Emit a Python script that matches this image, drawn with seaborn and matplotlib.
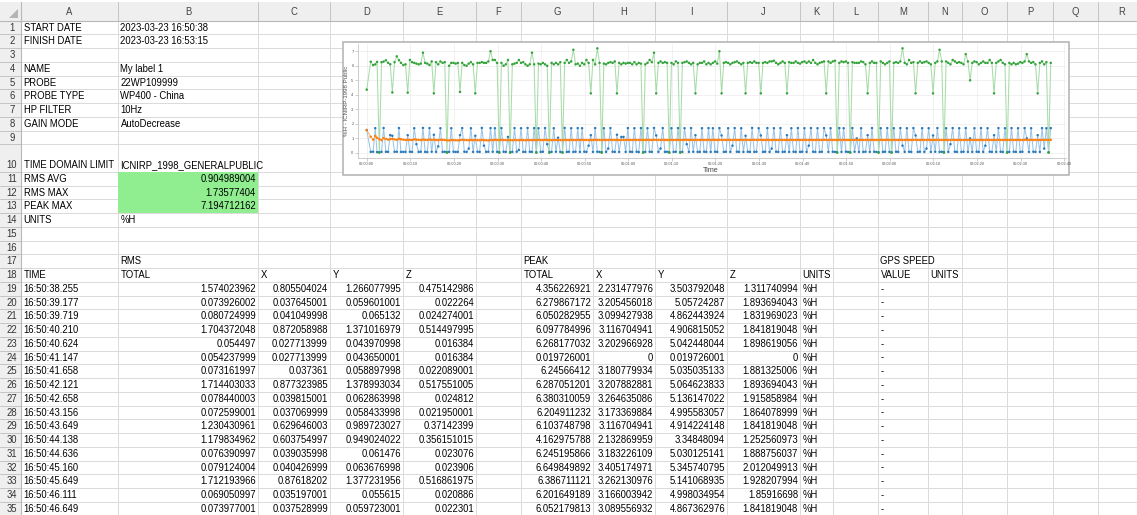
import numpy as np
import pandas as pd
import matplotlib
matplotlib.use("Agg")
import matplotlib.pyplot as plt
from matplotlib.patches import Rectangle, Polygon
import seaborn as sns

sns.set_theme(style="white")
plt.rcParams['font.family'] = ['Liberation Sans', 'DejaVu Sans']

# ------------------------------------------------------------------ data
COLUMN_LETTERS = list("ABCDEFGHIJKLMNOPQR")

INFO_KEYS = ["START DATE", "FINISH DATE", "", "NAME", "PROBE", "PROBE TYPE",
             "HP FILTER", "GAIN MODE", "", "TIME DOMAIN LIMIT", "RMS AVG",
             "RMS MAX", "PEAK MAX", "UNITS"]
INFO_VALUES = ["2023-03-23 16:50:38", "2023-03-23 16:53:15", "", "My label 1",
               "22WP109999", "WP400 - China", "10Hz", "AutoDecrease", "",
               "ICNIRP_1998_GENERALPUBLIC", "0.904989004", "1.73577404",
               "7.194712162", "%H"]
INFO_NUMERIC = [False] * 10 + [True, True, True, False]

GROUP_HEADERS = [("B", "RMS"), ("G", "PEAK"), ("M", "GPS SPEED")]
COLUMN_HEADERS = [("A", "TIME"), ("B", "TOTAL"), ("C", "X"), ("D", "Y"), ("E", "Z"),
                  ("G", "TOTAL"), ("H", "X"), ("I", "Y"), ("J", "Z"), ("K", "UNITS"),
                  ("M", "VALUE"), ("N", "UNITS")]

TABLE_TIME = ["16:50:38.255", "16:50:39.177", "16:50:39.719", "16:50:40.210",
              "16:50:40.624", "16:50:41.147", "16:50:41.658", "16:50:42.121",
              "16:50:42.658", "16:50:43.156", "16:50:43.649", "16:50:44.138",
              "16:50:44.636", "16:50:45.160", "16:50:45.649", "16:50:46.111",
              "16:50:46.649"]
RMS_TOTAL_TXT = ["1.574023962", "0.073926002", "0.080724999", "1.704372048", "0.054497",
                 "0.054237999", "0.073161997", "1.714403033", "0.078440003", "0.072599001",
                 "1.230430961", "1.179834962", "0.076390997", "0.079124004", "1.712193966",
                 "0.069050997", "0.073977001"]
RMS_X_TXT = ["0.805504024", "0.037645001", "0.041049998", "0.872058988", "0.027713999",
             "0.027713999", "0.037361", "0.877323985", "0.039815001", "0.037069999",
             "0.629646003", "0.603754997", "0.039035998", "0.040426999", "0.87618202",
             "0.035197001", "0.037528999"]
RMS_Y_TXT = ["1.266077995", "0.059601001", "0.065132", "1.371016979", "0.043970998",
             "0.043650001", "0.058897998", "1.378993034", "0.062863998", "0.058433998",
             "0.989723027", "0.949024022", "0.061476", "0.063676998", "1.377231956",
             "0.055615", "0.059723001"]
RMS_Z_TXT = ["0.475142986", "0.022264", "0.024274001", "0.514497995", "0.016384",
             "0.016384", "0.022089001", "0.517551005", "0.024812", "0.021950001",
             "0.37142399", "0.356151015", "0.023076", "0.023906", "0.516861975",
             "0.020886", "0.022301"]
PEAK_TOTAL_TXT = ["4.356226921", "6.279867172", "6.050282955", "6.097784996", "6.268177032",
                  "0.019726001", "6.24566412", "6.287051201", "6.380310059", "6.204911232",
                  "6.103748798", "4.162975788", "6.245195866", "6.649849892", "6.386711121",
                  "6.201649189", "6.052179813"]
PEAK_X_TXT = ["2.231477976", "3.205456018", "3.099427938", "3.116704941", "3.202966928",
              "0", "3.180779934", "3.207882881", "3.264635086", "3.173369884",
              "3.116704941", "2.132869959", "3.183226109", "3.405174971", "3.262130976",
              "3.166003942", "3.089556932"]
PEAK_Y_TXT = ["3.503792048", "5.05724287", "4.862443924", "4.906815052", "5.042448044",
              "0.019726001", "5.035035133", "5.064623833", "5.136147022", "4.995583057",
              "4.914224148", "3.34848094", "5.030125141", "5.345740795", "5.141068935",
              "4.998034954", "4.867362976"]
PEAK_Z_TXT = ["1.311740994", "1.893694043", "1.831969023", "1.841819048", "1.898619056",
              "0", "1.881325006", "1.893694043", "1.915858984", "1.864078999",
              "1.841819048", "1.252560973", "1.888756037", "2.012049913", "1.928207994",
              "1.85916698", "1.841819048"]
TABLE_UNITS = "%H"
GPS_VALUE = "-"

# chart series (elapsed seconds since start)
ELAPSED_S = [
    0.0, 0.922, 1.464, 1.955, 2.369, 2.892, 3.403, 3.866, 4.403, 4.901, 5.394, 5.883,
    6.381, 6.905, 7.394, 7.856, 8.394,
    8.9, 9.4, 9.9, 10.4, 10.9, 11.4, 11.9, 12.4, 12.9, 13.4, 13.9, 14.4, 14.9, 15.4, 15.9, 16.4, 16.9, 17.4, 17.9, 18.4,
    18.9, 19.4, 19.9, 20.4, 20.9, 21.4, 21.9, 22.4, 22.9, 23.4, 23.9, 24.4, 24.9, 25.4, 25.9, 26.4, 26.9, 27.4, 27.9, 28.4,
    28.9, 29.4, 29.9, 30.4, 30.9, 31.4, 31.9, 32.4, 32.9, 33.4, 33.9, 34.4, 34.9, 35.4, 35.9, 36.4, 36.9, 37.4, 37.9, 38.4,
    38.9, 39.4, 39.9, 40.4, 40.9, 41.4, 41.9, 42.4, 42.9, 43.4, 43.9, 44.4, 44.9, 45.4, 45.9, 46.4, 46.9, 47.4, 47.9, 48.4,
    48.9, 49.4, 49.9, 50.4, 50.9, 51.4, 51.9, 52.4, 52.9, 53.4, 53.9, 54.4, 54.9, 55.4, 55.9, 56.4, 56.9, 57.4, 57.9, 58.4,
    58.9, 59.4, 59.9, 60.4, 60.9, 61.4, 61.9, 62.4, 62.9, 63.4, 63.9, 64.4, 64.9, 65.4, 65.9, 66.4, 66.9, 67.4, 67.9, 68.4,
    68.9, 69.4, 69.9, 70.4, 70.9, 71.4, 71.9, 72.4, 72.9, 73.4, 73.9, 74.4, 74.9, 75.4, 75.9, 76.4, 76.9, 77.4, 77.9, 78.4,
    78.9, 79.4, 79.9, 80.4, 80.9, 81.4, 81.9, 82.4, 82.9, 83.4, 83.9, 84.4, 84.9, 85.4, 85.9, 86.4, 86.9, 87.4, 87.9, 88.4,
    88.9, 89.4, 89.9, 90.4, 90.9, 91.4, 91.9, 92.4, 92.9, 93.4, 93.9, 94.4, 94.9, 95.4, 95.9, 96.4, 96.9, 97.4, 97.9, 98.4,
    98.9, 99.4, 99.9, 100.4, 100.9, 101.4, 101.9, 102.4, 102.9, 103.4, 103.9, 104.4, 104.9, 105.4, 105.9, 106.4, 106.9, 107.4, 107.9, 108.4,
    108.9, 109.4, 109.9, 110.4, 110.9, 111.4, 111.9, 112.4, 112.9, 113.4, 113.9, 114.4, 114.9, 115.4, 115.9, 116.4, 116.9, 117.4, 117.9, 118.4,
    118.9, 119.4, 119.9, 120.4, 120.9, 121.4, 121.9, 122.4, 122.9, 123.4, 123.9, 124.4, 124.9, 125.4, 125.9, 126.4, 126.9, 127.4, 127.9, 128.4,
    128.9, 129.4, 129.9, 130.4, 130.9, 131.4, 131.9, 132.4, 132.9, 133.4, 133.9, 134.4, 134.9, 135.4, 135.9, 136.4, 136.9, 137.4, 137.9, 138.4,
    138.9, 139.4, 139.9, 140.4, 140.9, 141.4, 141.9, 142.4, 142.9, 143.4, 143.9, 144.4, 144.9, 145.4, 145.9, 146.4, 146.9, 147.4, 147.9, 148.4,
    148.9, 149.4, 149.9, 150.4, 150.9, 151.4, 151.9, 152.4, 152.9, 153.4, 153.9, 154.4, 154.9, 155.4, 155.9, 156.4, 156.9,
]
RMS_SERIES = [
    1.574, 0.074, 0.081, 1.704, 0.054, 0.054, 0.073, 1.714, 0.078, 0.073, 1.230, 1.180,
    0.076, 0.079, 1.712, 0.069, 0.074,
    0.07, 1.22, 0.08, 0.07, 1.70, 0.60, 0.07, 0.08, 1.72, 0.07, 0.06, 1.71, 0.08, 1.25, 0.07, 0.45, 1.70, 0.07, 0.08, 0.05,
    0.07, 1.70, 0.08, 0.07, 0.07, 1.22, 1.71, 0.08, 0.07, 0.30, 1.70, 0.07, 1.18, 0.08, 0.07, 1.72, 0.50, 0.07, 0.08, 1.71,
    0.08, 1.70, 0.07, 0.06, 1.71, 0.08, 0.07, 1.10, 0.05, 0.07, 1.71, 0.08, 0.20, 1.70, 0.07, 0.07, 1.72, 0.08, 0.07, 1.71,
    0.05, 1.70, 0.07, 0.08, 1.71, 0.60, 0.06, 0.07, 1.70, 0.08, 1.05, 0.07, 0.05, 1.72, 0.07, 0.08, 1.70, 0.07, 0.08, 1.71,
    0.07, 1.70, 0.08, 0.07, 0.50, 1.22, 0.07, 1.71, 0.08, 0.07, 0.05, 1.70, 0.07, 0.30, 1.71, 0.08, 0.07, 1.25, 0.07, 1.10,
    1.10, 0.07, 1.71, 0.08, 0.07, 1.70, 0.08, 0.06, 1.71, 0.05, 0.07, 1.70, 0.08, 0.07, 1.72, 1.20, 0.07, 0.30, 1.71, 0.07,
    0.08, 0.05, 1.70, 0.07, 0.08, 1.71, 0.05, 0.07, 1.70, 0.60, 0.07, 1.71, 0.08, 1.22, 0.07, 0.07, 1.70, 0.08, 0.07, 1.71,
    0.07, 1.70, 0.08, 0.07, 1.71, 1.20, 0.07, 0.08, 1.70, 0.07, 0.50, 1.71, 0.08, 0.07, 1.70, 0.07, 1.18, 0.08, 0.07, 1.72,
    0.07, 0.08, 1.70, 1.20, 0.07, 0.08, 1.71, 0.07, 0.30, 1.70, 0.08, 0.07, 1.71, 0.07, 0.08, 1.22, 0.07, 1.70, 0.08, 0.07,
    1.71, 0.07, 0.08, 1.70, 0.07, 0.50, 1.71, 0.08, 0.07, 1.70, 0.07, 0.08, 1.71, 1.20, 0.07, 1.70, 0.08, 0.07, 0.05, 1.71,
    0.07, 1.70, 0.08, 0.07, 0.05, 1.71, 0.08, 1.00, 0.07, 1.70, 0.07, 0.08, 1.22, 0.07, 1.71, 0.08, 0.07, 0.05, 1.70, 0.07,
    0.08, 1.71, 0.07, 0.05, 1.70, 0.08, 0.07, 1.71, 0.50, 0.07, 1.70, 0.08, 0.07, 1.71, 1.20, 0.07, 0.08, 1.70, 0.07, 0.30,
    1.70, 0.07, 1.20, 0.08, 1.71, 0.07, 0.08, 0.05, 1.70, 0.07, 0.60, 1.71, 0.08, 0.07, 1.70, 0.07, 0.08, 1.71, 0.07, 1.00,
    0.07, 1.70, 0.08, 0.07, 1.71, 0.07, 0.50, 1.70, 0.08, 0.07, 1.22, 0.07, 1.71, 0.08, 0.07, 1.70, 0.05, 0.07, 1.71, 0.08,
    0.07, 1.70, 0.07, 0.08, 1.71, 1.00, 0.07, 1.70, 0.08, 0.07, 1.22, 0.07, 1.71, 0.30, 1.70, 0.05, 1.71,
]
PEAK_SERIES = [
    4.356, 6.280, 6.050, 6.098, 6.268, 0.020, 6.246, 6.287, 6.380, 6.205, 6.104, 4.163,
    6.245, 6.650, 6.387, 6.202, 6.052,
    6.10, 4.15, 6.40, 6.25, 6.20, 6.15, 6.10, 6.15, 6.90, 6.20, 6.15, 6.05, 6.30, 4.10, 6.25, 6.10, 6.30, 6.20, 6.25, 0.02,
    6.00, 6.20, 6.20, 6.15, 6.20, 4.20, 6.20, 6.05, 6.00, 6.15, 6.25, 6.10, 4.10, 6.20, 6.20, 6.25, 6.20, 6.20, 6.30, 7.00,
    6.40, 6.40, 6.20, 0.02, 6.20, 6.00, 6.10, 6.40, 0.02, 6.10, 6.15, 6.20, 6.40, 6.20, 6.25, 6.10, 6.00, 6.10, 6.90, 6.10,
    0.02, 6.15, 6.10, 6.20, 6.10, 6.00, 0.02, 6.20, 6.10, 6.20, 6.10, 6.25, 0.02, 6.20, 6.40, 6.20, 6.30, 7.10, 6.10, 6.15,
    6.00, 6.20, 6.10, 6.40, 6.20, 4.10, 6.40, 6.10, 7.20, 6.20, 0.02, 6.15, 6.10, 6.20, 6.25, 6.20, 6.30, 4.10, 6.20, 6.10,
    6.20, 6.15, 6.20, 6.20, 6.10, 6.25, 6.10, 6.20, 6.15, 0.02, 6.10, 6.20, 6.40, 6.25, 6.90, 4.10, 6.20, 6.30, 6.20, 6.25,
    6.20, 0.02, 6.20, 6.10, 6.30, 6.20, 0.02, 6.20, 6.25, 6.30, 6.20, 6.10, 6.20, 4.10, 6.10, 6.20, 6.20, 6.30, 6.10, 6.20,
    6.10, 6.20, 6.30, 6.15, 7.00, 4.10, 6.20, 6.25, 6.20, 6.10, 6.20, 6.25, 6.30, 6.20, 6.10, 6.20, 4.10, 6.20, 6.25, 6.20,
    6.30, 6.20, 6.20, 4.10, 6.20, 6.25, 6.20, 6.30, 6.30, 6.35, 6.20, 6.10, 6.20, 6.30, 6.20, 4.10, 6.25, 6.20, 6.20, 6.30,
    6.20, 6.15, 6.25, 6.30, 6.20, 6.30, 6.20, 6.40, 6.20, 6.10, 6.20, 6.25, 6.30, 4.10, 6.30, 6.20, 6.30, 6.35, 0.02, 6.20,
    6.30, 6.25, 6.30, 6.20, 0.02, 6.25, 6.20, 6.20, 6.20, 6.30, 6.25, 6.10, 4.10, 6.20, 6.30, 6.20, 6.20, 0.02, 6.30, 6.20,
    6.10, 6.20, 6.30, 0.02, 6.20, 6.25, 6.20, 6.30, 7.20, 6.20, 6.10, 6.40, 6.20, 6.25, 4.10, 6.20, 6.30, 6.20, 6.25, 6.30,
    6.20, 6.10, 4.10, 6.20, 6.30, 7.10, 6.30, 0.02, 6.30, 6.20, 6.10, 6.40, 6.30, 6.20, 6.25, 6.20, 6.10, 6.80, 6.30, 5.00,
    6.20, 6.30, 6.25, 6.10, 6.20, 6.30, 6.20, 6.20, 6.40, 6.20, 4.10, 6.20, 6.30, 6.40, 6.20, 6.10, 0.02, 6.20, 6.10, 6.20,
    6.10, 6.15, 6.25, 6.20, 6.30, 6.80, 6.30, 6.20, 6.25, 6.10, 4.10, 6.20, 6.30, 6.10, 6.25, 0.02, 6.20,
]
RMS_AVG_SERIES = [
    1.574, 1.114, 0.911, 1.161, 1.039, 0.949, 0.879, 1.021, 0.963, 0.914, 0.947, 0.969,
    0.931, 0.897, 0.973, 0.942, 0.914,
    0.89, 0.91, 0.90, 0.89, 0.93, 0.91, 0.90, 0.88, 0.92, 0.90, 0.89, 0.92, 0.90, 0.91, 0.89, 0.88, 0.91, 0.90, 0.89, 0.87,
    0.86, 0.89, 0.88, 0.87, 0.86, 0.88, 0.90, 0.89, 0.88, 0.87, 0.89, 0.88, 0.89, 0.88, 0.87, 0.89, 0.88, 0.87, 0.86, 0.89,
    0.88, 0.90, 0.89, 0.88, 0.90, 0.89, 0.88, 0.89, 0.88, 0.87, 0.89, 0.88, 0.87, 0.89, 0.88, 0.87, 0.89, 0.88, 0.88, 0.89,
    0.88, 0.90, 0.89, 0.88, 0.90, 0.89, 0.88, 0.88, 0.89, 0.89, 0.89, 0.88, 0.88, 0.89, 0.89, 0.88, 0.90, 0.89, 0.88, 0.90,
    0.89, 0.90, 0.89, 0.89, 0.88, 0.89, 0.89, 0.90, 0.89, 0.89, 0.88, 0.90, 0.89, 0.89, 0.90, 0.89, 0.89, 0.89, 0.89, 0.89,
    0.90, 0.89, 0.90, 0.89, 0.89, 0.90, 0.89, 0.89, 0.90, 0.89, 0.89, 0.90, 0.89, 0.89, 0.90, 0.90, 0.89, 0.89, 0.90, 0.89,
    0.89, 0.89, 0.90, 0.89, 0.89, 0.90, 0.89, 0.89, 0.90, 0.90, 0.89, 0.90, 0.89, 0.90, 0.89, 0.89, 0.90, 0.89, 0.89, 0.90,
    0.89, 0.90, 0.90, 0.89, 0.90, 0.90, 0.89, 0.89, 0.90, 0.89, 0.89, 0.90, 0.89, 0.89, 0.90, 0.89, 0.90, 0.89, 0.89, 0.90,
    0.90, 0.89, 0.90, 0.90, 0.89, 0.89, 0.90, 0.89, 0.89, 0.90, 0.89, 0.89, 0.90, 0.89, 0.89, 0.90, 0.89, 0.90, 0.89, 0.89,
    0.90, 0.89, 0.89, 0.90, 0.89, 0.89, 0.90, 0.89, 0.89, 0.90, 0.89, 0.89, 0.90, 0.90, 0.89, 0.90, 0.89, 0.89, 0.89, 0.90,
    0.89, 0.90, 0.89, 0.89, 0.89, 0.90, 0.89, 0.90, 0.89, 0.90, 0.89, 0.89, 0.90, 0.89, 0.90, 0.89, 0.89, 0.89, 0.90, 0.89,
    0.89, 0.90, 0.89, 0.89, 0.90, 0.89, 0.89, 0.90, 0.89, 0.89, 0.90, 0.89, 0.89, 0.90, 0.90, 0.89, 0.89, 0.90, 0.89, 0.89,
    0.90, 0.89, 0.90, 0.89, 0.90, 0.89, 0.89, 0.89, 0.90, 0.89, 0.89, 0.90, 0.89, 0.89, 0.90, 0.89, 0.89, 0.90, 0.89, 0.90,
    0.89, 0.90, 0.89, 0.89, 0.90, 0.89, 0.89, 0.90, 0.89, 0.89, 0.90, 0.89, 0.90, 0.89, 0.89, 0.90, 0.89, 0.89, 0.90, 0.89,
    0.89, 0.90, 0.89, 0.89, 0.90, 0.90, 0.89, 0.90, 0.89, 0.89, 0.90, 0.89, 0.90, 0.90, 0.90, 0.90, 0.90,
]
XTICK_S = [0, 10, 20, 30, 40, 50, 60, 70, 80, 90, 100, 110, 120, 130, 140, 150, 160]
XTICK_LABELS = ["00:00:00", "00:00:10", "00:00:20", "00:00:30", "00:00:40", "00:00:50",
                "00:01:00", "00:01:10", "00:01:20", "00:01:30", "00:01:40", "00:01:50",
                "00:02:00", "00:02:10", "00:02:20", "00:02:30", "00:02:40"]
YTICKS = [0, 1, 2, 3, 4, 5, 6, 7]
Y_LABEL = "%H - ICNIRP-1998 Public"
X_LABEL = "Time"

# ------------------------------------------------------------------ layout
W, H = 1137, 515
fig = plt.figure(figsize=(W / 100, H / 100), dpi=100)
fig.patch.set_facecolor("white")
bg = fig.add_axes([0, 0, 1, 1])
bg.set_xlim(0, W)
bg.set_ylim(H, 0)
bg.axis("off")

COL_EDGES = [21, 118, 258, 330, 403, 476, 521, 593, 655, 727, 800, 833, 878, 928,
             962, 1007, 1053, 1098, 1145]
HEAD_TOP, HEAD_BOT = 2.0, 20.7
ROW_EDGES = [HEAD_BOT]
for r in range(1, 36):
    ROW_EDGES.append(ROW_EDGES[-1] + (27.5 if r == 10 else 13.75))

GRID = "#dadada"
HDR_BG = "#efefef"
HDR_LINE = "#c4c4c4"
FS = 6.85

# header band and row-number column
bg.add_patch(Rectangle((0, HEAD_TOP), W, HEAD_BOT - HEAD_TOP, fc=HDR_BG, ec="none", zorder=1))
bg.add_patch(Rectangle((0, HEAD_BOT), COL_EDGES[0], H - HEAD_BOT, fc=HDR_BG, ec="none", zorder=1))
bg.add_patch(Polygon([[9, 17.5], [18, 17.5], [18, 8.5]], closed=True, fc="#b5b5b5", ec="none", zorder=2))

# gridlines
for y in ROW_EDGES[1:]:
    bg.plot([COL_EDGES[0], W], [y, y], color=GRID, lw=0.7, zorder=1.5)
    bg.plot([0, COL_EDGES[0]], [y, y], color=HDR_LINE, lw=0.7, zorder=1.5)
for x in COL_EDGES[1:]:
    bg.plot([x, x], [HEAD_BOT, H], color=GRID, lw=0.7, zorder=1.5)
    bg.plot([x, x], [HEAD_TOP, HEAD_BOT], color=HDR_LINE, lw=0.7, zorder=1.5)
bg.plot([0, W], [HEAD_BOT, HEAD_BOT], color="#b8b8b8", lw=0.8, zorder=1.6)
bg.plot([COL_EDGES[0], COL_EDGES[0]], [HEAD_TOP, H], color="#b8b8b8", lw=0.8, zorder=1.6)

# green highlighted cells B11:B13
bg.add_patch(Rectangle((COL_EDGES[1], ROW_EDGES[10]), COL_EDGES[2] - COL_EDGES[1],
                       ROW_EDGES[13] - ROW_EDGES[10], fc="#90ee90", ec="none", zorder=2))

# column letters and row numbers
for i, letter in enumerate(COLUMN_LETTERS):
    xc = (COL_EDGES[i] + COL_EDGES[i + 1]) / 2
    bg.text(xc, (HEAD_TOP + HEAD_BOT) / 2 + 0.5, letter, ha="center", va="center",
            fontsize=FS, color="#444444", zorder=3)
for r in range(1, 36):
    yc = ROW_EDGES[r] - 6.9
    bg.text(12, yc, str(r), ha="center", va="center", fontsize=FS, color="#333333", zorder=3)


def cell(col, row, text, align="left"):
    c = COLUMN_LETTERS.index(col)
    yc = ROW_EDGES[row] - 6.9
    if align == "left":
        bg.text(COL_EDGES[c] + 2.5, yc, text, ha="left", va="center", fontsize=FS,
                color="black", zorder=3)
    else:
        bg.text(COL_EDGES[c + 1] - 2, yc, text, ha="right", va="center", fontsize=FS,
                color="black", zorder=3)


for k, (key, val, isnum) in enumerate(zip(INFO_KEYS, INFO_VALUES, INFO_NUMERIC)):
    row = k + 1
    if key:
        cell("A", row, key)
    if val:
        cell("B", row, val, "right" if isnum else "left")

for col, txt in GROUP_HEADERS:
    cell(col, 17, txt)
for col, txt in COLUMN_HEADERS:
    cell(col, 18, txt)

for i in range(len(TABLE_TIME)):
    row = 19 + i
    cell("A", row, TABLE_TIME[i])
    cell("B", row, RMS_TOTAL_TXT[i], "right")
    cell("C", row, RMS_X_TXT[i], "right")
    cell("D", row, RMS_Y_TXT[i], "right")
    cell("E", row, RMS_Z_TXT[i], "right")
    cell("G", row, PEAK_TOTAL_TXT[i], "right")
    cell("H", row, PEAK_X_TXT[i], "right")
    cell("I", row, PEAK_Y_TXT[i], "right")
    cell("J", row, PEAK_Z_TXT[i], "right")
    cell("K", row, TABLE_UNITS)
    cell("M", row, GPS_VALUE)

# chart frame (embedded chart object)
bg.add_patch(Rectangle((343, 42), 1069 - 343, 175 - 42, fc="white", ec="#b0b0b0",
                       lw=1.1, zorder=5))
bg.text(347, 101, Y_LABEL, rotation=90, ha="center", va="center", fontsize=4.4,
        color="#555555", zorder=6)
bg.text(711, 171, X_LABEL, ha="center", va="center", fontsize=5.2, color="#444444", zorder=6)

# ------------------------------------------------------------------ chart
PL, PR, PT, PB = 358, 1066, 44, 158
ax = fig.add_axes([PL / W, 1 - PB / H, (PR - PL) / W, (PB - PT) / H])
ax.set_facecolor("white")

SERIES_ORDER = ["RMS", "PEAK", "RMS AVG"]
n = len(ELAPSED_S)
long = pd.DataFrame({
    "t": ELAPSED_S * 3,
    "v": RMS_SERIES + PEAK_SERIES + RMS_AVG_SERIES,
    "series": ["RMS"] * n + ["PEAK"] * n + ["RMS AVG"] * n,
})
LINE_PAL = {"RMS": "#9cc4e6", "PEAK": "#a9dba9", "RMS AVG": "#ffb26b"}
MARK_PAL = {"RMS": "#2a7bbd", "PEAK": "#33a33a", "RMS AVG": "#ff7f0e"}

sns.lineplot(data=long, x="t", y="v", hue="series", hue_order=SERIES_ORDER,
             palette=LINE_PAL, estimator=None, sort=False, lw=0.75, legend=False, ax=ax)
sns.scatterplot(data=long, x="t", y="v", hue="series", hue_order=SERIES_ORDER,
                palette=MARK_PAL, s=3.2, linewidth=0, legend=False, ax=ax, zorder=3)

ax.set_xlim(-2.0, 160.4)
ax.set_ylim(-0.35, 7.5)
ax.set_xticks(XTICK_S)
ax.set_xticklabels(XTICK_LABELS, fontsize=2.8, color="#555555")
ax.set_yticks(YTICKS)
ax.set_yticklabels([str(v) for v in YTICKS], fontsize=3.0, color="#555555")
ax.tick_params(axis="both", which="both", length=2, width=0.4, color="#aaaaaa", pad=1.2,
               bottom=True, left=True)
ax.grid(True, color="#ebebeb", lw=0.5)
ax.set_axisbelow(True)
for side in ["top", "right"]:
    ax.spines[side].set_visible(False)
for side in ["left", "bottom"]:
    ax.spines[side].set_color("#c4c4c4")
    ax.spines[side].set_linewidth(0.6)
ax.set_xlabel("")
ax.set_ylabel("")

fig.savefig("out.png", dpi=100)
